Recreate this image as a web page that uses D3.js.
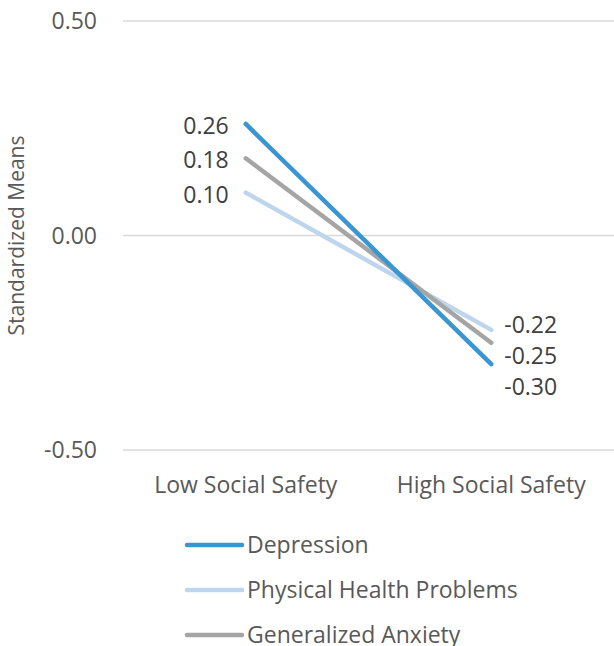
<!DOCTYPE html>
<html>
<head>
<meta charset="utf-8">
<script src="https://cdn.jsdelivr.net/npm/d3@7"></script>
<style>
  body { margin: 0; background: #fff; }
  text { font-family: "Open Sans", "Noto Sans", sans-serif; }
</style>
</head>
<body>
<svg width="614" height="646"></svg>
<script>
let categories = ["Low Social Safety", "High Social Safety"];
let seriesNames = ["Depression", "Physical Health Problems", "Generalized Anxiety"];
let depression = [0.26, -0.30];
let physical = [0.10, -0.22];
let anxiety = [0.18, -0.25];
let yTicks = [-0.5, 0, 0.5];

let colors = ["#3A96D3", "#BDD6EE", "#A5A5A5"];
let series = [depression, physical, anxiety].map((vals, i) => ({
  name: seriesNames[i],
  values: vals,
  color: colors[i],
}));

// hyphen minus like the original
const fmt = d3.formatLocale({ decimal: ".", thousands: ",", grouping: [3], currency: ["", ""], minus: "-" }).format(".2f");

let svg = d3.select("svg");
let margin = { top: 21, right: 0, bottom: 196, left: 123 };

let x = d3.scaleBand().domain(categories).range([margin.left, 614]);
let y = d3.scaleLinear().domain([-0.5, 0.5]).range([margin.top + 429, margin.top]);

// gridlines
svg
  .selectAll("line.grid")
  .data(yTicks)
  .enter()
  .append("line")
  .attr("class", "grid")
  .attr("x1", margin.left)
  .attr("x2", 614)
  .attr("y1", (d) => y(d))
  .attr("y2", (d) => y(d))
  .attr("stroke", "#D9D9D9")
  .attr("stroke-width", 1.3);

// y axis labels
svg
  .selectAll("text.ytick")
  .data(yTicks)
  .enter()
  .append("text")
  .attr("class", "ytick")
  .attr("x", 97)
  .attr("y", (d) => y(d))
  .attr("dy", "0.35em")
  .attr("text-anchor", "end")
  .attr("font-size", "23px")
  .attr("fill", "#595959")
  .text((d) => fmt(d));

// x axis labels
svg
  .selectAll("text.xtick")
  .data(categories)
  .enter()
  .append("text")
  .attr("class", "xtick")
  .attr("x", (d) => x(d) + x.bandwidth() / 2)
  .attr("y", 485)
  .attr("dy", "0.35em")
  .attr("text-anchor", "middle")
  .attr("font-size", "23px")
  .attr("fill", "#595959")
  .text((d) => d);

// y title
svg
  .append("text")
  .attr("transform", `translate(17, ${y(0)}) rotate(-90)`)
  .attr("text-anchor", "middle")
  .attr("dy", "0.35em")
  .attr("font-size", "21px")
  .attr("fill", "#595959")
  .text("Standardized Means");

let line = d3
  .line()
  .x((d, i) => x(categories[i]) + x.bandwidth() / 2)
  .y((d) => y(d));

// draw order: physical, anxiety, depression on top
[1, 2, 0].forEach((k) => {
  svg
    .append("path")
    .attr("d", line(series[k].values))
    .attr("fill", "none")
    .attr("stroke", series[k].color)
    .attr("stroke-width", 4.5)
    .attr("stroke-linecap", "round");
});

// data labels, spaced so they don't overlap
function labelPositions(idx) {
  let items = series
    .map((s) => ({ v: s.values[idx], py: y(s.values[idx]) }))
    .sort((a, b) => a.py - b.py);
  let prev = -Infinity;
  items.forEach((d) => {
    d.ly = Math.max(d.py, prev + 31);
    prev = d.ly;
  });
  return items;
}

let left = labelPositions(0);
svg
  .selectAll("text.lab0")
  .data(left)
  .enter()
  .append("text")
  .attr("class", "lab0")
  .attr("x", x(categories[0]) + x.bandwidth() / 2 - 17)
  .attr("y", (d) => d.ly + 2)
  .attr("dy", "0.35em")
  .attr("text-anchor", "end")
  .attr("font-size", "23px")
  .attr("fill", "#404040")
  .text((d) => fmt(d.v));

let right = labelPositions(1);
svg
  .selectAll("text.lab1")
  .data(right)
  .enter()
  .append("text")
  .attr("class", "lab1")
  .attr("x", x(categories[1]) + x.bandwidth() / 2 + 13)
  .attr("y", (d) => d.ly - 5)
  .attr("dy", "0.35em")
  .attr("text-anchor", "start")
  .attr("font-size", "23px")
  .attr("fill", "#404040")
  .text((d) => fmt(d.v));

// legend
let legend = svg
  .selectAll("g.legend")
  .data(series)
  .enter()
  .append("g")
  .attr("class", "legend")
  .attr("transform", (d, i) => `translate(187, ${545 + i * 45})`);

legend
  .append("line")
  .attr("x1", 0)
  .attr("x2", 55)
  .attr("stroke", (d) => d.color)
  .attr("stroke-width", 4.5)
  .attr("stroke-linecap", "round");

legend
  .append("text")
  .attr("x", 60)
  .attr("dy", "0.33em")
  .attr("font-size", "23px")
  .attr("fill", "#595959")
  .text((d) => d.name);
</script>
</body>
</html>
